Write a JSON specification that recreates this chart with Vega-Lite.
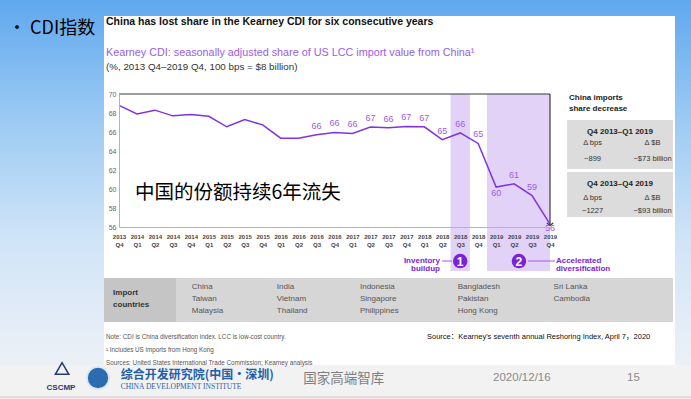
{
  "$schema": "https://vega.github.io/schema/vega-lite/v6.json",
  "autosize": "none",
  "width": 431,
  "height": 133,
  "padding": {"left": 119, "top": 94, "right": 141, "bottom": 172},
  "background": "#ffffff",
  "config": {"view": {"stroke": null}, "font": "Liberation Sans"},
  "datasets": {
    "cdi": [
      {"x": 0, "quarter": "2013 Q4", "y": 68.8},
      {"x": 1, "quarter": "2014 Q1", "y": 67.9},
      {"x": 2, "quarter": "2014 Q2", "y": 68.3},
      {"x": 3, "quarter": "2014 Q3", "y": 67.7},
      {"x": 4, "quarter": "2014 Q4", "y": 67.85},
      {"x": 5, "quarter": "2015 Q1", "y": 67.65},
      {"x": 6, "quarter": "2015 Q2", "y": 66.55},
      {"x": 7, "quarter": "2015 Q3", "y": 67.3},
      {"x": 8, "quarter": "2015 Q4", "y": 66.75},
      {"x": 9, "quarter": "2016 Q1", "y": 65.35},
      {"x": 10, "quarter": "2016 Q2", "y": 65.35},
      {"x": 11, "quarter": "2016 Q3", "y": 65.7},
      {"x": 12, "quarter": "2016 Q4", "y": 65.95},
      {"x": 13, "quarter": "2017 Q1", "y": 65.85},
      {"x": 14, "quarter": "2017 Q2", "y": 66.52},
      {"x": 15, "quarter": "2017 Q3", "y": 66.46},
      {"x": 16, "quarter": "2017 Q4", "y": 66.58},
      {"x": 17, "quarter": "2018 Q1", "y": 66.55},
      {"x": 18, "quarter": "2018 Q2", "y": 65.2},
      {"x": 19, "quarter": "2018 Q3", "y": 65.9},
      {"x": 20, "quarter": "2018 Q4", "y": 64.8},
      {"x": 21, "quarter": "2019 Q1", "y": 60.2},
      {"x": 22, "quarter": "2019 Q2", "y": 60.55},
      {"x": 23, "quarter": "2019 Q3", "y": 59.3},
      {"x": 24, "quarter": "2019 Q4", "y": 56.3}
    ],
    "bg": [{"x": -6.7, "x2": 31.9, "y": 80, "y2": 37.8}],
    "footer": [{"x": -6.7, "x2": 31.9, "y": 41.47, "y2": 37.8}],
    "footline": [{"x": -6.7, "x2": 31.9, "y": 38.1}],
    "card": [{"x": -0.835, "x2": 30.96, "y": 78.2, "y2": 41.47}],
    "table": [{"x": -0.835, "x2": 30.85, "y": 50.63, "y2": 46.0}],
    "tablehead": [{"x": -0.835, "x2": 3.17, "y": 50.63, "y2": 46.0}],
    "boxes": [
      {"x": 24.95, "x2": 30.85, "y": 67.26, "y2": 62.1},
      {"x": 24.95, "x2": 30.85, "y": 61.79, "y2": 57.05}
    ],
    "bands": [
      {"x": 18.46, "x2": 19.54, "y": 70, "y2": 51.37},
      {"x": 20.49, "x2": 24, "y": 70, "y2": 51.37}
    ],
    "frametop": [{"x": 0, "x2": 24, "y": 70}],
    "frameright": [{"x": 24, "y": 70, "y2": 56.15}],
    "arrowhead": [{"x": 24, "y": 56.15}],
    "connectors": [
      {"x": 17.99, "x2": 18.54, "y": 52.42},
      {"x": 22.78, "x2": 24.28, "y": 52.42}
    ],
    "circles": [
      {"x": 19, "y": 52.42, "t": "1"},
      {"x": 22.27, "y": 52.42, "t": "2"}
    ],
    "bullet": [{"x": -6.18, "y": 76.84, "t": "• CDI指数"}],
    "title": [{"x": -0.724, "y": 77.58, "t": "China has lost share in the Kearney CDI for six consecutive years"}],
    "subtitle": [{"x": -0.724, "y": 74.35, "t": "Kearney CDI: seasonally adjusted share of US LCC import value from China¹"}],
    "units": [{"x": -0.724, "y": 72.89, "t": "(%, 2013 Q4–2019 Q4, 100 bps = $8 billion)"}],
    "cn": [{"x": 0.891, "y": 59.55, "t": "中国的份额持续6年流失"}],
    "panelhead": [
      {"x": 25.06, "y": 69.58, "t": "China imports"},
      {"x": 25.06, "y": 68.42, "t": "share decrease"}
    ],
    "boxhead": [
      {"x": 27.9, "y": 66.03, "t": "Q4 2013–Q1 2019"},
      {"x": 27.9, "y": 60.53, "t": "Q4 2013–Q4 2019"}
    ],
    "boxbody": [
      {"x": 26.37, "y": 64.88, "t": "Δ bps"},
      {"x": 29.71, "y": 64.88, "t": "Δ $B"},
      {"x": 26.37, "y": 63.12, "t": "−899"},
      {"x": 29.71, "y": 63.12, "t": "−$73 billion"},
      {"x": 26.37, "y": 59.05, "t": "Δ bps"},
      {"x": 29.71, "y": 59.05, "t": "Δ $B"},
      {"x": 26.37, "y": 57.68, "t": "−1227"},
      {"x": 29.71, "y": 57.68, "t": "−$93 billion"}
    ],
    "annL": [
      {"x": 17.87, "y": 52.42, "t": "Inventory"},
      {"x": 17.87, "y": 51.53, "t": "buildup"}
    ],
    "annR": [
      {"x": 24.33, "y": 52.45, "t": "Accelerated"},
      {"x": 24.33, "y": 51.58, "t": "diversification"}
    ],
    "importhead": [
      {"x": -0.33, "y": 49.05, "t": "Import"},
      {"x": -0.33, "y": 47.84, "t": "countries"}
    ],
    "countries": [
      {"x": 4.05, "y": 49.65, "t": "China"},
      {"x": 4.05, "y": 48.42, "t": "Taiwan"},
      {"x": 4.05, "y": 47.19, "t": "Malaysia"},
      {"x": 8.79, "y": 49.65, "t": "India"},
      {"x": 8.79, "y": 48.42, "t": "Vietnam"},
      {"x": 8.79, "y": 47.19, "t": "Thailand"},
      {"x": 13.42, "y": 49.65, "t": "Indonesia"},
      {"x": 13.42, "y": 48.42, "t": "Singapore"},
      {"x": 13.42, "y": 47.19, "t": "Philippines"},
      {"x": 18.86, "y": 49.65, "t": "Bangladesh"},
      {"x": 18.86, "y": 48.42, "t": "Pakistan"},
      {"x": 18.86, "y": 47.19, "t": "Hong Kong"},
      {"x": 24.2, "y": 49.65, "t": "Sri Lanka"},
      {"x": 24.2, "y": 48.42, "t": "Cambodia"}
    ],
    "notes": [
      {"x": -0.724, "y": 44.39, "t": "Note: CDI is China diversification index. LCC is low-cost country."},
      {"x": -0.724, "y": 43.05, "t": "¹ Includes US imports from Hong Kong"},
      {"x": -0.724, "y": 41.72, "t": "Sources: United States International Trade Commission; Kearney analysis"}
    ],
    "source": [{"x": 17.15, "y": 44.39, "t": "Source：Kearney's seventh annual Reshoring Index, April 7，2020"}],
    "cdiname": [{"x": 0.095, "y": 40.47, "t": "综合开发研究院(中国·深圳)"}],
    "cdien": [{"x": 0.095, "y": 39.15, "t": "CHINA DEVELOPMENT INSTITUTE"}],
    "think": [{"x": 10.26, "y": 40.0, "t": "国家高端智库"}],
    "datepage": [
      {"x": 20.83, "y": 40.1, "t": "2020/12/16"},
      {"x": 28.29, "y": 40.1, "t": "15"}
    ],
    "cscmp": [{"x": -3.23, "y": 39.05, "t": "CSCMP"}],
    "logo1": [{"x": -3.17, "y": 41.1}],
    "logo2": [{"x": -1.17, "y": 40.1}]
  },
  "encoding": {
    "x": {
      "field": "x", "type": "quantitative",
      "scale": {"domain": [0, 24], "nice": false, "zero": false},
      "axis": {
        "title": null, "zindex": 1, "grid": false, "ticks": false,
        "values": [0,1,2,3,4,5,6,7,8,9,10,11,12,13,14,15,16,17,18,19,20,21,22,23,24],
        "labelExpr": "[toString(2013 + floor((datum.value + 3) / 4)), 'Q' + toString((datum.value + 3) % 4 + 1)]",
        "labelFontSize": 6, "labelFontWeight": "bold", "labelColor": "#444",
        "labelLineHeight": 8, "labelPadding": 6, "labelAngle": 0,
        "labelFlush": false, "labelOverlap": false, "labelBound": false,
        "domainColor": "#b5b5b5", "domainWidth": 1
      }
    },
    "y": {
      "field": "y", "type": "quantitative",
      "scale": {"domain": [56, 70], "nice": false, "zero": false},
      "axis": {
        "title": null, "zindex": 1, "grid": false, "ticks": false,
        "values": [56, 58, 60, 62, 64, 66, 68, 70],
        "labelFontSize": 7, "labelColor": "#666", "labelPadding": 3,
        "labelFlush": false, "labelOverlap": false,
        "domainColor": "#b5b5b5", "domainWidth": 1
      }
    }
  },
  "layer": [
    {"data": {"name": "bg"}, "mark": {"type": "rect", "clip": false, "color": {"gradient": "linear", "x1": 0, "y1": 0, "x2": 0, "y2": 1, "stops": [{"offset": 0, "color": "#5fa8ee"}, {"offset": 0.3, "color": "#9ccaf3"}, {"offset": 0.6, "color": "#d0e4f7"}, {"offset": 0.9, "color": "#ebf0f6"}, {"offset": 1, "color": "#f1f2f4"}]}}, "encoding": {"x2": {"field": "x2"}, "y2": {"field": "y2"}}},
    {"data": {"name": "footer"}, "mark": {"type": "rect", "clip": false, "color": "#f2f2f3"}, "encoding": {"x2": {"field": "x2"}, "y2": {"field": "y2"}}},
    {"data": {"name": "footline"}, "mark": {"type": "rule", "clip": false, "color": "#c8c8c8", "strokeWidth": 1}, "encoding": {"x2": {"field": "x2"}}},
    {"data": {"name": "card"}, "mark": {"type": "rect", "clip": false, "color": "#ffffff"}, "encoding": {"x2": {"field": "x2"}, "y2": {"field": "y2"}}},
    {"data": {"name": "table"}, "mark": {"type": "rect", "clip": false, "color": "#d6d6d6"}, "encoding": {"x2": {"field": "x2"}, "y2": {"field": "y2"}}},
    {"data": {"name": "tablehead"}, "mark": {"type": "rect", "clip": false, "color": "#c5c5c5"}, "encoding": {"x2": {"field": "x2"}, "y2": {"field": "y2"}}},
    {"data": {"name": "boxes"}, "mark": {"type": "rect", "clip": false, "color": "#dcdcdc"}, "encoding": {"x2": {"field": "x2"}, "y2": {"field": "y2"}}},
    {"data": {"name": "bands"}, "mark": {"type": "rect", "clip": false, "color": "#e3d2f8"}, "encoding": {"x2": {"field": "x2"}, "y2": {"field": "y2"}}},
    {"data": {"name": "frametop"}, "mark": {"type": "rule", "clip": false, "color": "#3a3a3a", "strokeWidth": 1.2}, "encoding": {"x2": {"field": "x2"}}},
    {"data": {"name": "frameright"}, "mark": {"type": "rule", "clip": false, "color": "#3a3a3a", "strokeWidth": 1.2}, "encoding": {"y2": {"field": "y2"}}},
    {"data": {"name": "arrowhead"}, "mark": {"type": "point", "clip": false, "shape": "M-1,-0.8L0,0L1,-0.8", "filled": false, "stroke": "#3a3a3a", "strokeWidth": 1.2, "size": 40, "opacity": 1}},
    {"data": {"name": "cdi"}, "mark": {"type": "line", "color": "#8033e0", "strokeWidth": 1.5, "clip": false}, "encoding": {}},
    {"data": {"name": "cdi"}, "transform": [{"filter": "datum.x >= 11 && datum.x != 21 && datum.x != 24"}], "mark": {"type": "text", "clip": false, "color": "#9a5ce8", "fontSize": 9, "baseline": "bottom", "align": "center", "dy": -4}, "encoding": {"text": {"field": "y", "type": "quantitative", "format": ".0f"}}},
    {"data": {"name": "cdi"}, "transform": [{"filter": "datum.x == 21"}], "mark": {"type": "text", "clip": false, "color": "#9a5ce8", "fontSize": 9, "baseline": "top", "align": "center", "dy": 2}, "encoding": {"text": {"field": "y", "type": "quantitative", "format": ".0f"}}},
    {"data": {"name": "cdi"}, "transform": [{"filter": "datum.x == 24"}], "mark": {"type": "text", "clip": false, "color": "#9a5ce8", "fontSize": 9, "baseline": "top", "align": "center", "dy": -0.5}, "encoding": {"text": {"field": "y", "type": "quantitative", "format": ".0f"}}},
    {"data": {"name": "connectors"}, "mark": {"type": "rule", "clip": false, "color": "#9a5ce8", "strokeWidth": 1}, "encoding": {"x2": {"field": "x2"}}},
    {"data": {"name": "circles"}, "mark": {"type": "point", "clip": false, "shape": "circle", "filled": true, "color": "#7b22d9", "size": 210, "opacity": 1}},
    {"data": {"name": "circles"}, "mark": {"type": "text", "clip": false, "color": "#ffffff", "fontSize": 12, "fontWeight": "bold", "align": "center", "baseline": "middle", "dy": 0.5}, "encoding": {"text": {"field": "t"}}},
    {"data": {"name": "annL"}, "mark": {"type": "text", "clip": false, "color": "#7b22d9", "fontSize": 8, "fontWeight": "bold", "align": "right", "baseline": "middle"}, "encoding": {"text": {"field": "t"}}},
    {"data": {"name": "annR"}, "mark": {"type": "text", "clip": false, "color": "#7b22d9", "fontSize": 8, "fontWeight": "bold", "align": "left", "baseline": "middle"}, "encoding": {"text": {"field": "t"}}},
    {"data": {"name": "bullet"}, "mark": {"type": "text", "clip": false, "font": "Noto Sans CJK SC", "color": "#000000", "fontSize": 18, "align": "left", "baseline": "middle"}, "encoding": {"text": {"field": "t"}}},
    {"data": {"name": "title"}, "mark": {"type": "text", "clip": false, "color": "#111111", "fontSize": 10.5, "fontWeight": "bold", "align": "left", "baseline": "middle"}, "encoding": {"text": {"field": "t"}}},
    {"data": {"name": "subtitle"}, "mark": {"type": "text", "clip": false, "color": "#9a5ce8", "fontSize": 10.8, "align": "left", "baseline": "middle"}, "encoding": {"text": {"field": "t"}}},
    {"data": {"name": "units"}, "mark": {"type": "text", "clip": false, "color": "#333333", "fontSize": 9.8, "align": "left", "baseline": "middle"}, "encoding": {"text": {"field": "t"}}},
    {"data": {"name": "cn"}, "mark": {"type": "text", "clip": false, "font": "Noto Sans CJK SC", "color": "#000000", "fontSize": 19.5, "align": "left", "baseline": "middle"}, "encoding": {"text": {"field": "t"}}},
    {"data": {"name": "panelhead"}, "mark": {"type": "text", "clip": false, "color": "#222222", "fontSize": 8, "fontWeight": "bold", "align": "left", "baseline": "middle"}, "encoding": {"text": {"field": "t"}}},
    {"data": {"name": "boxhead"}, "mark": {"type": "text", "clip": false, "color": "#222222", "fontSize": 8, "fontWeight": "bold", "align": "center", "baseline": "middle"}, "encoding": {"text": {"field": "t"}}},
    {"data": {"name": "boxbody"}, "mark": {"type": "text", "clip": false, "color": "#333333", "fontSize": 7.5, "align": "center", "baseline": "middle"}, "encoding": {"text": {"field": "t"}}},
    {"data": {"name": "importhead"}, "mark": {"type": "text", "clip": false, "color": "#333333", "fontSize": 8, "fontWeight": "bold", "align": "left", "baseline": "middle"}, "encoding": {"text": {"field": "t"}}},
    {"data": {"name": "countries"}, "mark": {"type": "text", "clip": false, "color": "#555555", "fontSize": 8, "align": "left", "baseline": "middle"}, "encoding": {"text": {"field": "t"}}},
    {"data": {"name": "notes"}, "mark": {"type": "text", "clip": false, "color": "#555555", "fontSize": 6.3, "align": "left", "baseline": "middle"}, "encoding": {"text": {"field": "t"}}},
    {"data": {"name": "source"}, "mark": {"type": "text", "clip": false, "font": "Liberation Sans, Noto Sans CJK SC", "color": "#111111", "fontSize": 7.5, "align": "left", "baseline": "middle"}, "encoding": {"text": {"field": "t"}}},
    {"data": {"name": "logo1"}, "mark": {"type": "point", "clip": false, "shape": "triangle-up", "filled": false, "stroke": "#1d3c78", "strokeWidth": 1.5, "size": 180, "opacity": 1}},
    {"data": {"name": "logo2"}, "mark": {"type": "point", "clip": false, "shape": "circle", "filled": true, "color": "#2b6cb0", "stroke": "#dfe9f5", "strokeWidth": 2, "size": 500, "opacity": 1}},
    {"data": {"name": "cscmp"}, "mark": {"type": "text", "clip": false, "color": "#1d3c78", "fontSize": 8, "fontWeight": "bold", "align": "center", "baseline": "middle"}, "encoding": {"text": {"field": "t"}}},
    {"data": {"name": "cdiname"}, "mark": {"type": "text", "clip": false, "font": "Noto Sans CJK SC", "color": "#1f5fa8", "fontSize": 12, "fontWeight": "bold", "align": "left", "baseline": "middle"}, "encoding": {"text": {"field": "t"}}},
    {"data": {"name": "cdien"}, "mark": {"type": "text", "clip": false, "font": "Liberation Serif", "color": "#2a5ea8", "fontSize": 7.5, "align": "left", "baseline": "middle"}, "encoding": {"text": {"field": "t"}}},
    {"data": {"name": "think"}, "mark": {"type": "text", "clip": false, "font": "Noto Sans CJK SC", "color": "#7f7f7f", "fontSize": 13.5, "align": "left", "baseline": "middle"}, "encoding": {"text": {"field": "t"}}},
    {"data": {"name": "datepage"}, "mark": {"type": "text", "clip": false, "color": "#8a8a8a", "fontSize": 11.5, "align": "left", "baseline": "middle"}, "encoding": {"text": {"field": "t"}}}
  ]
}
